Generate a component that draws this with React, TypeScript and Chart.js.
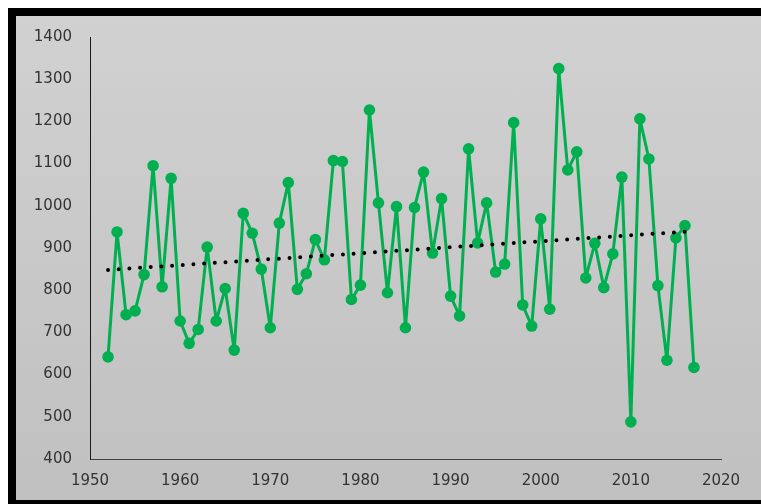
import React, { useEffect, useRef } from "react";
import { Chart, registerables } from "chart.js";

Chart.register(...registerables);

const years: number[] = [
  1952, 1953, 1954, 1955, 1956, 1957, 1958, 1959, 1960, 1961,
  1962, 1963, 1964, 1965, 1966, 1967, 1968, 1969, 1970, 1971,
  1972, 1973, 1974, 1975, 1976, 1977, 1978, 1979, 1980, 1981,
  1982, 1983, 1984, 1985, 1986, 1987, 1988, 1989, 1990, 1991,
  1992, 1993, 1994, 1995, 1996, 1997, 1998, 1999, 2000, 2001,
  2002, 2003, 2004, 2005, 2006, 2007, 2008, 2009, 2010, 2011,
  2012, 2013, 2014, 2015, 2016, 2017,
];

const values: number[] = [
  642, 938, 742, 751, 837, 1095, 808, 1065, 727, 674,
  707, 902, 727, 804, 658, 982, 935, 850, 711, 959,
  1055, 802, 839, 920, 872, 1107, 1105, 778, 812, 1227,
  1007, 794, 998, 711, 996, 1080, 888, 1017, 786, 739,
  1135, 912, 1007, 843, 862, 1197, 765, 715, 969, 755,
  1325, 1085, 1128, 829, 911, 806, 886, 1068, 488, 1206,
  1111, 811, 634, 924, 953, 617,
];

const trendYears: number[] = [1952, 2017];
const trendValues: number[] = [848, 940];

const xMin = 1950;
const xMax = 2020;
const yMin = 400;
const yMax = 1400;

export default function App() {
  const canvasRef = useRef<HTMLCanvasElement | null>(null);

  useEffect(() => {
    const canvas = canvasRef.current;
    if (!canvas) return;
    const green = "#00B050";
    const tickFont = { family: "DejaVu Sans", size: 15 };
    const chart = new Chart(canvas, {
      type: "line",
      data: {
        datasets: [
          {
            label: "Trend",
            data: trendYears.map((x, i) => ({ x, y: trendValues[i] })),
            borderColor: "#000000",
            borderWidth: 4,
            borderDash: [0, 10.7],
            borderCapStyle: "round",
            pointRadius: 0,
            fill: false,
            order: 0,
          },
          {
            label: "Values",
            data: years.map((x, i) => ({ x, y: values[i] })),
            borderColor: green,
            backgroundColor: green,
            borderWidth: 3,
            borderJoinStyle: "round",
            pointRadius: 5.8,
            pointBackgroundColor: green,
            pointBorderColor: green,
            pointBorderWidth: 0,
            tension: 0,
            fill: false,
            order: 1,
          },
        ],
      },
      options: {
        animation: false,
        responsive: false,
        maintainAspectRatio: false,
        layout: { autoPadding: false, padding: { left: 0, right: 40, top: 21, bottom: 0 } },
        plugins: {
          legend: { display: false },
          tooltip: { enabled: false },
          title: { display: false },
        },
        scales: {
          x: {
            type: "linear",
            min: xMin,
            max: xMax,
            grid: { display: false, drawTicks: false, tickLength: 0 },
            border: { display: true, color: "#404040", width: 1 },
            ticks: {
              stepSize: 10,
              padding: 13,
              color: "#333333",
              font: tickFont,
              maxRotation: 0,
              callback: (v: any) => String(v),
            },
            afterFit: (scale: any) => {
              scale.height = 41;
            },
          },
          y: {
            type: "linear",
            min: yMin,
            max: yMax,
            grid: { display: false, drawTicks: false, tickLength: 0 },
            border: { display: true, color: "#1a1a1a", width: 1 },
            ticks: {
              stepSize: 100,
              padding: 18,
              color: "#333333",
              font: tickFont,
              callback: (v: any) => String(v),
            },
            afterFit: (scale: any) => {
              scale.width = 74;
              scale.paddingTop = 0;
              scale.paddingBottom = 0;
            },
          },
        },
      },
    });
    return () => chart.destroy();
  }, []);

  return (
    <div
      style={{
        position: "fixed",
        left: 8,
        top: 8,
        boxSizing: "border-box",
        width: 753,
        height: 496,
        borderTop: "8px solid #000",
        borderLeft: "8px solid #000",
        borderBottom: "4px solid #000",
        borderRight: "none",
        background: "linear-gradient(#d1d1d1, #c0c0c0)",
        overflow: "hidden",
      }}
    >
      <canvas
        ref={canvasRef}
        width={745}
        height={484}
        style={{ display: "block", width: 745, height: 484 }}
      />
    </div>
  );
}
